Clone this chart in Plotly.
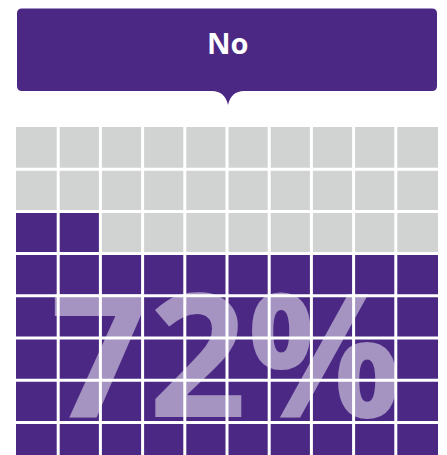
import plotly.graph_objects as go

# ---- data ----
label = "No"
value_pct = 72
n_cols = 10
n_rows = 10
color_filled = "#4b2884"
color_empty = "#d1d2d2"

# ---- layout geometry (pixels, screen coords; page has 8px body margin) ----
OFF = 8
W, H = 447 - 2 * OFF, 455 - OFF
grid_left, grid_right, grid_top = 16, 438, 127
ml = grid_left - OFF
mr = W - (grid_right - OFF)
mt = grid_top - OFF
mb = 0
plot_w = W - ml - mr
plot_h = H - mt - mb
cell_px = plot_w / n_cols
visible_rows = plot_h / cell_px

def px_x(p):
    return (p - OFF - ml) / plot_w

def px_y(p):
    return (H - mb - (p - OFF)) / plot_h

# waffle cells, filled from bottom-left row by row
z = []
for r in range(n_rows):
    row = []
    for c in range(n_cols):
        row.append(1 if r * n_cols + c < value_pct else 0)
    z.append(row)
xs = [c + 0.5 for c in range(n_cols)]
ys = [r + 0.5 for r in range(n_rows)]

fig = go.Figure()
fig.add_trace(go.Heatmap(
    x=xs, y=ys, z=z, zmin=0, zmax=1,
    colorscale=[[0, color_empty], [1, color_filled]],
    showscale=False, hoverinfo="skip",
))

# big percentage text (drawn beneath the white cell gaps)
fig.add_trace(go.Scatter(
    x=[(226 - grid_left) / cell_px], y=[n_rows - (374 - grid_top) / cell_px],
    mode="text", text=[f"{value_pct}%"],
    textfont=dict(family="Open Sans", size=172, color="rgba(255,255,255,0.5)", weight="bold"),
    textposition="middle center",
    hoverinfo="skip", showlegend=False, cliponaxis=False,
))

shapes = []
# white gaps between cells
for c in range(1, n_cols):
    shapes.append(dict(type="line", xref="x", yref="y", x0=c, x1=c, y0=0, y1=n_rows,
                       line=dict(color="white", width=3), layer="above"))
for r in range(1, n_rows):
    shapes.append(dict(type="line", xref="x", yref="y", x0=0, x1=n_cols, y0=r, y1=r,
                       line=dict(color="white", width=3), layer="above"))

# title callout box with rounded corners and pointer
x0, x1 = px_x(17), px_x(437)
y0, y1 = px_y(91), px_y(8.5)
rx, ry = 5 / plot_w, 5 / plot_h
cx = px_x(228)
tw = 16 / plot_w
ty = px_y(105)
path = (
    f"M {x0+rx},{y1} L {x1-rx},{y1} Q {x1},{y1} {x1},{y1-ry} "
    f"L {x1},{y0+ry} Q {x1},{y0} {x1-rx},{y0} "
    f"L {cx+tw},{y0} Q {cx+tw*0.2},{y0} {cx},{ty} Q {cx-tw*0.2},{y0} {cx-tw},{y0} "
    f"L {x0+rx},{y0} Q {x0},{y0} {x0},{y0+ry} "
    f"L {x0},{y1-ry} Q {x0},{y1} {x0+rx},{y1} Z"
)
shapes.append(dict(type="path", xref="paper", yref="paper", path=path,
                   fillcolor=color_filled, line=dict(width=0), layer="above"))

fig.update_layout(
    width=W, height=H,
    margin=dict(l=ml, r=mr, t=mt, b=mb),
    paper_bgcolor="white", plot_bgcolor="white",
    xaxis=dict(range=[0, n_cols], visible=False, fixedrange=True),
    yaxis=dict(range=[n_rows - visible_rows, n_rows], visible=False, fixedrange=True),
    shapes=shapes,
    annotations=[dict(
        xref="paper", yref="paper", x=px_x(228), y=px_y(42),
        text=f"<b>{label}</b>", showarrow=False,
        font=dict(family="Open Sans", size=29, color="white"),
        xanchor="center", yanchor="middle",
    )],
    showlegend=False,
)

fig.write_html("out.html")
